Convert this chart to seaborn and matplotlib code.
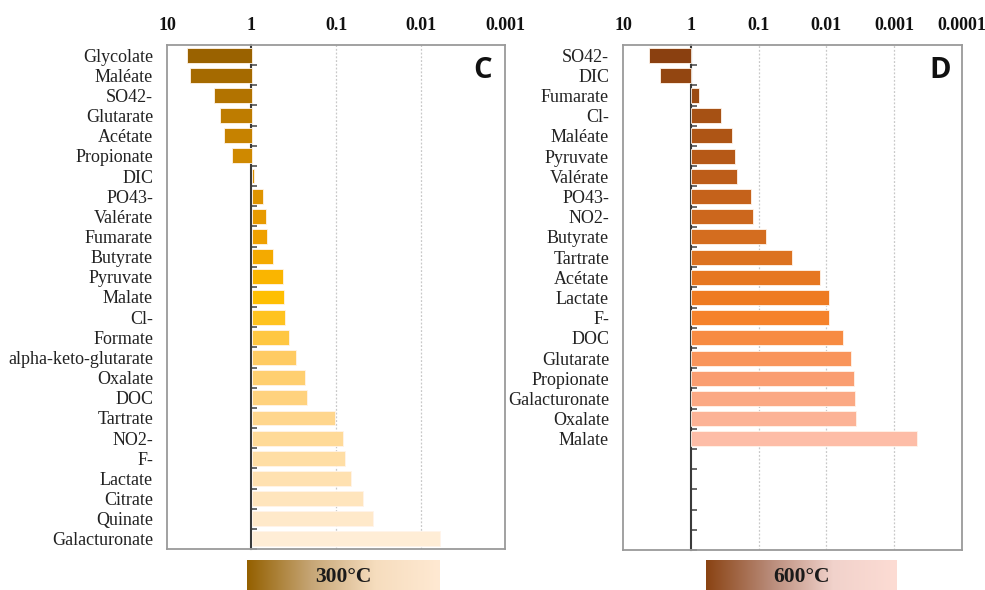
import numpy as np
import pandas as pd
import matplotlib
matplotlib.use("Agg")
import matplotlib.pyplot as plt
from matplotlib.colors import LinearSegmentedColormap
import seaborn as sns

# ---- data -------------------------------------------------------------
cats_c = ["Glycolate", "Maléate", "SO42-", "Glutarate", "Acétate", "Propionate",
          "DIC", "PO43-", "Valérate", "Fumarate", "Butyrate", "Pyruvate", "Malate",
          "Cl-", "Formate", "alpha-keto-glutarate", "Oxalate", "DOC", "Tartrate",
          "NO2-", "F-", "Lactate", "Citrate", "Quinate", "Galacturonate"]
vals_c = [5.8, 5.3, 2.8, 2.33, 2.09, 1.71,
          0.94, 0.73, 0.665, 0.66, 0.55, 0.426, 0.41,
          0.40, 0.358, 0.30, 0.23, 0.223, 0.103,
          0.083, 0.0786, 0.0668, 0.0481, 0.0363, 0.0058]

cats_d = ["SO42-", "DIC", "Fumarate", "Cl-", "Maléate", "Pyruvate", "Valérate",
          "PO43-", "NO2-", "Butyrate", "Tartrate", "Acétate", "Lactate", "F-",
          "DOC", "Glutarate", "Propionate", "Galacturonate", "Oxalate", "Malate"]
vals_d = [4.08, 2.84, 0.762, 0.357, 0.243, 0.224, 0.21,
          0.129, 0.122, 0.079, 0.0317, 0.0123, 0.0093, 0.0092,
          0.00567, 0.00432, 0.00394, 0.00373, 0.0036, 0.000465]

ticks_c = ["10", "1", "0.1", "0.01", "0.001"]
ticks_d = ["10", "1", "0.1", "0.01", "0.001", "0.0001"]
label_c, label_d = "300°C", "600°C"
panel_c, panel_d = "C", "D"

# ---- style ------------------------------------------------------------
sns.set_theme(style="white")
plt.rcParams["font.family"] = ["Liberation Serif", "DejaVu Serif"]

anchors_c = ["#9A6200", "#BE7C00", "#D88F00", "#EFA000", "#FFBF00",
             "#FFCB62", "#FFD68C", "#FFE1B0", "#FFEDD6"]
anchors_d = ["#8A4010", "#A85214", "#C05E1A", "#D87020", "#F47E22",
             "#FA9C6E", "#FDBDA7"]
pal_c = sns.blend_palette(anchors_c, n_colors=len(cats_c))
pal_d = sns.blend_palette(anchors_d, n_colors=len(cats_d))

fig = plt.figure(figsize=(9.85, 5.9), dpi=100)
ax_c = fig.add_axes([167 / 985, 41 / 590, 338 / 985, 504 / 590])
ax_d = fig.add_axes([623 / 985, 40 / 590, 339 / 985, 505 / 590])

n_slots = len(cats_c)


def draw_panel(ax, cats, vals, pal, tick_labels, letter):
    # bars grow from 1 on a decade axis: position = -log10(value)
    df = pd.DataFrame({"cat": cats, "val": vals})
    df["decades"] = -np.log10(df["val"])
    sns.barplot(data=df, x="decades", y="cat", hue="cat", palette=pal,
                order=cats, hue_order=cats, legend=False, orient="h",
                width=0.74, errorbar=None, saturation=1, ax=ax,
                edgecolor="#fff4ea", linewidth=0.6)

    k = np.arange(len(tick_labels)) - 1
    ax.set_xlim(k[0], k[-1])
    ax.set_ylim(n_slots - 0.5, -0.5)
    ax.set_xticks(k)
    ax.set_xticklabels(tick_labels, fontweight="bold", fontsize=13,
                       color="#111111")
    ax.xaxis.tick_top()
    ax.tick_params(axis="x", length=0, pad=8)
    ax.tick_params(axis="y", length=0, pad=10, labelsize=13, labelcolor="#222222")
    ax.set_xlabel("")
    ax.set_ylabel("")

    for kk in k[2:-1]:
        ax.axvline(kk, color="#c8c8c8", linestyle=(0, (1.5, 1.5)), lw=0.9, zorder=0)

    for sp in ax.spines.values():
        sp.set_color("#9a9a9a")
        sp.set_linewidth(1.3)

    # axis line at 1 with category separators
    loc = (0 - k[0]) / (k[-1] - k[0])
    sec = ax.secondary_yaxis(loc)
    sec.set_yticks(np.arange(n_slots) + 0.5)
    sec.tick_params(axis="y", direction="in", length=4, width=1.2,
                    color="#505050", labelleft=False, labelright=False)
    sec.spines["left"].set_color("#3a3a3a")
    sec.spines["left"].set_linewidth(1.5)

    ax.text(0.935, 0.95, letter, transform=ax.transAxes, ha="center", va="center",
            fontsize=21, fontweight="bold", family=["Open Sans", "DejaVu Sans"],
            color="#111111")


draw_panel(ax_c, cats_c, vals_c, pal_c, ticks_c, panel_c)
draw_panel(ax_d, cats_d, vals_d, pal_d, ticks_d, panel_d)


def gradient_box(rect, colors, text):
    bx = fig.add_axes(rect)
    cmap = LinearSegmentedColormap.from_list("g", colors)
    bx.imshow(np.linspace(0, 1, 256)[None, :], aspect="auto", cmap=cmap,
              extent=(0, 1, 0, 1))
    bx.set_axis_off()
    bx.text(0.5, 0.42, text, transform=bx.transAxes, ha="center", va="center",
            fontsize=15.5, fontweight="bold", color="#1a1a1a")


gradient_box([247 / 985, 0.0, 193 / 985, 30 / 590],
             ["#946000", "#C6A676", "#F6DDBE", "#FFE9D2"], label_c)
gradient_box([706 / 985, 0.0, 191 / 985, 30 / 590],
             ["#8A4313", "#B88A78", "#F1D2CB", "#FDDCD4"], label_d)

fig.savefig("out.png", dpi=100, facecolor="white")
